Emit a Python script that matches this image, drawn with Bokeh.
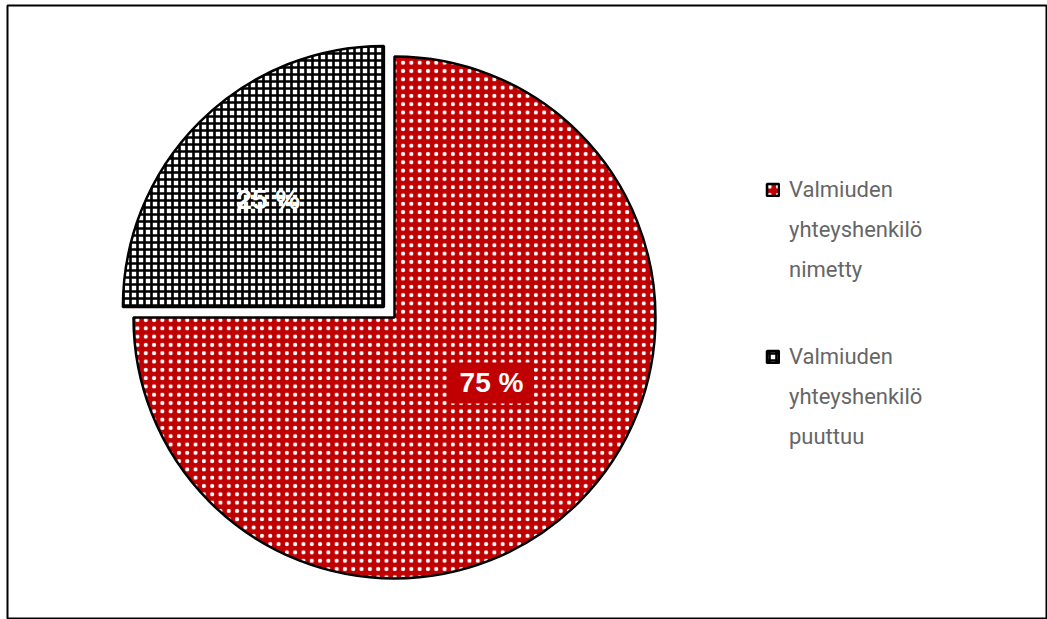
import math
from bokeh.plotting import figure
from bokeh.models import Legend, LegendItem, Range1d
from bokeh.core.properties import value
from bokeh.embed import file_html
from bokeh.resources import INLINE

# ---- data ----
categories = [["Valmiuden", "yhteyshenkilö", "nimetty"],
              ["Valmiuden", "yhteyshenkilö", "puuttuu"]]
values = [75, 25]
value_labels = ["75 %", "25 %"]

# ---- layout / style ----
W, H = 1047, 619
ML, MT, MB, MR = 7, 5, 1, 0
FW, FH = W - ML - MR, H - MT - MB
cx, cy, R = 387, FH - 312, 261
explode = [0, 15]
label_dist = [117, 158]
label_ang_shift = [11, 2]  # degrees
fill_colors = ["#C00000", "#FFFFFF"]
hatch_colors = ["#FFFFFF", "#000000"]

total = sum(values)
starts, ends, xs, ys, lx, ly = [], [], [], [], [], []
cum = 0
for i, v in enumerate(values):
    a0 = math.pi / 2 - 2 * math.pi * cum / total
    cum += v
    a1 = math.pi / 2 - 2 * math.pi * cum / total
    mid = (a0 + a1) / 2
    starts.append(a0); ends.append(a1)
    x0 = cx + explode[i] * math.cos(mid)
    y0 = cy + explode[i] * math.sin(mid)
    xs.append(x0); ys.append(y0)
    la = mid + math.radians(label_ang_shift[i])
    lx.append(x0 + label_dist[i] * math.cos(la))
    ly.append(y0 + label_dist[i] * math.sin(la))

p = figure(width=W, height=H, output_backend="svg", toolbar_location=None,
           x_range=Range1d(0, FW), y_range=Range1d(0, FH),
           min_border_left=ML, min_border_top=MT, min_border_bottom=MB, min_border_right=MR)
p.axis.visible = False
p.grid.visible = False
p.outline_line_color = "black"
p.outline_line_width = 2
p.background_fill_color = "white"
p.border_fill_color = "white"

r_red = p.wedge(x=xs[0], y=ys[0], radius=R, start_angle=starts[0], end_angle=ends[0],
                direction="clock", fill_color=fill_colors[0], line_color="black", line_width=2.5,
                hatch_pattern=".", hatch_color=hatch_colors[0], hatch_scale=8.3, hatch_weight=1.8)
r_chk = p.wedge(x=xs[1], y=ys[1], radius=R, start_angle=starts[1], end_angle=ends[1],
                direction="clock", fill_color=fill_colors[1], line_color="black", line_width=2.5,
                hatch_pattern="+", hatch_scale=7, hatch_weight=2.6, hatch_color=hatch_colors[1])

p.text(x=[lx[0]], y=[ly[0]], text=[value_labels[0]], text_align="center", text_baseline="middle",
       text_color="white", text_font=value("Liberation Sans"), text_font_style="bold",
       text_font_size="28px", background_fill_color="#C00000", padding=(10, 5))
p.text(x=[lx[1]], y=[ly[1]], text=[value_labels[1]], text_align="center", text_baseline="middle",
       text_color="white", text_font=value("Liberation Sans"), text_font_style="bold",
       text_font_size="28px")

# invisible renderer for continuation lines of legend labels
blank = p.scatter(x=[], y=[], fill_alpha=0, line_alpha=0)

legend_locs = [(758, 329), (758, 162)]
for i, lines in enumerate(categories):
    items = [LegendItem(label=lines[0], renderers=[[r_red, r_chk][i]])]
    items += [LegendItem(label=t, renderers=[blank]) for t in lines[1:]]
    lg = Legend(items=items, location=legend_locs[i], orientation="vertical",
                label_text_font="Roboto", label_text_font_size="22px", label_text_color="#666666",
                glyph_width=15, glyph_height=15, label_height=40, spacing=0,
                padding=0, margin=0, border_line_color=None, background_fill_alpha=0,
                label_standoff=9)
    p.add_layout(lg)

open("out.html", "w").write(file_html(p, INLINE))
